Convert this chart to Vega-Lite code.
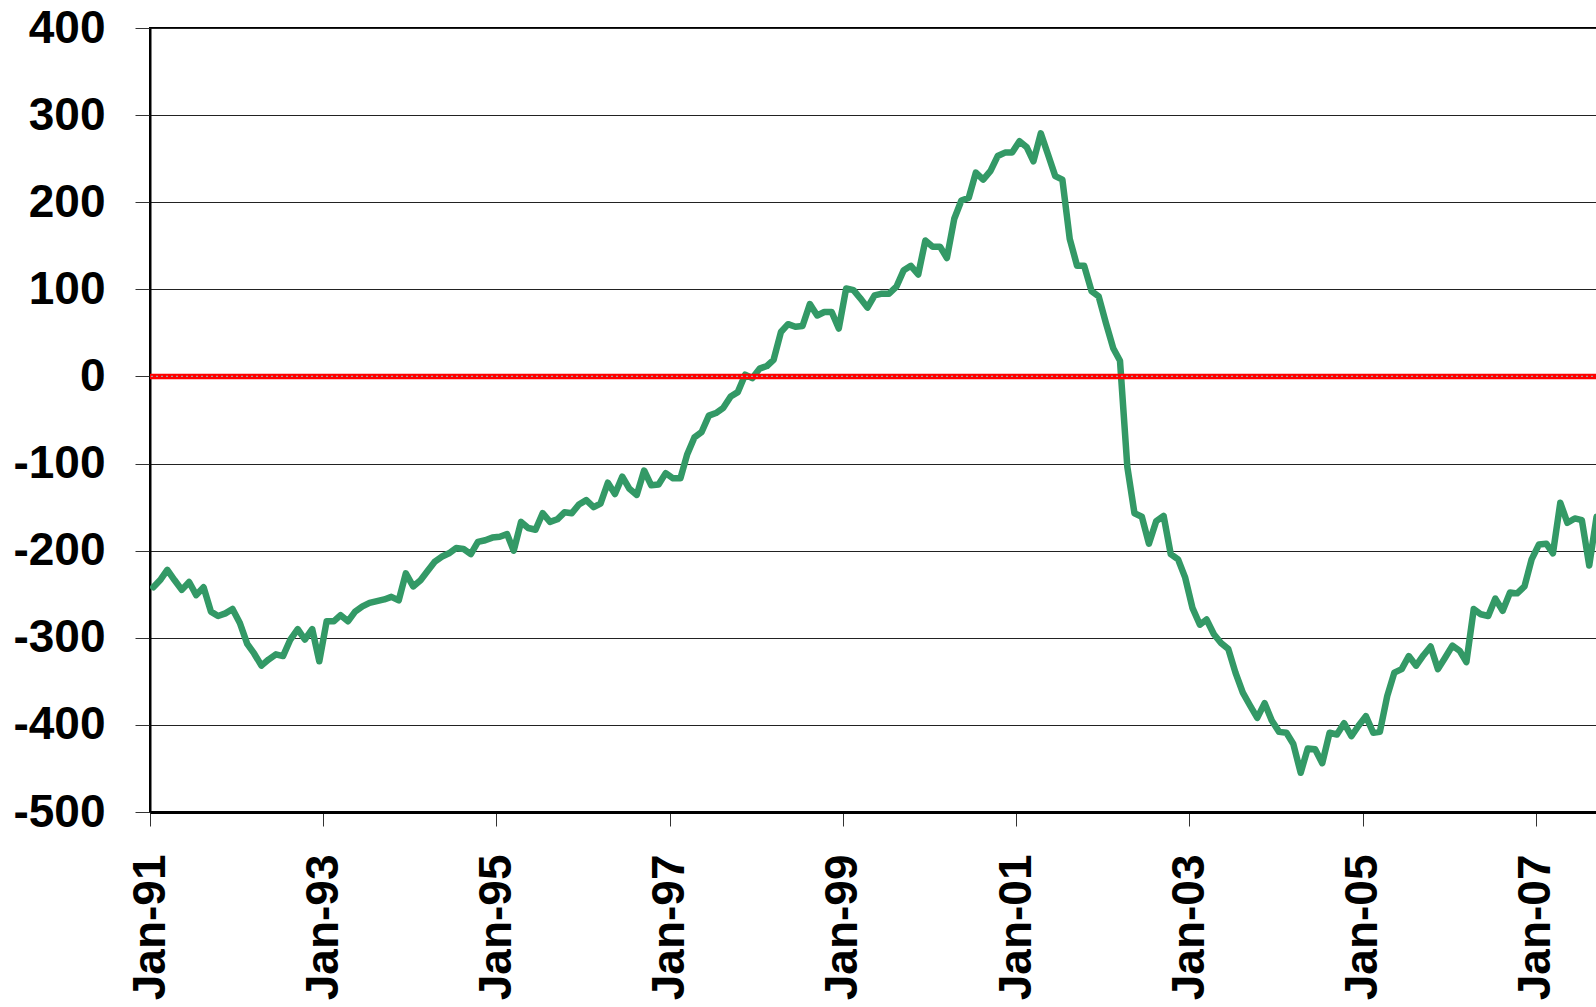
{
  "$schema": "https://vega.github.io/schema/vega-lite/v6.json",
  "width": 1448,
  "height": 784,
  "autosize": {"type": "none"},
  "padding": {"left": 150, "top": 28, "right": 0, "bottom": 195},
  "background": "white",
  "config": {"view": {"stroke": "black", "strokeWidth": 2}, "font": "Liberation Sans"},
  "layer": [
    {
      "data": {"values": [
        {"date":"1991-01-15","value":-242},{"date":"1991-02-15","value":-233},{"date":"1991-03-15","value":-222},{"date":"1991-04-15","value":-234},{"date":"1991-05-15","value":-245},{"date":"1991-06-15","value":-236},{"date":"1991-07-15","value":-251},{"date":"1991-08-15","value":-242},{"date":"1991-09-15","value":-270},{"date":"1991-10-15","value":-275},{"date":"1991-11-15","value":-272},{"date":"1991-12-15","value":-267},
        {"date":"1992-01-15","value":-283},{"date":"1992-02-15","value":-307},{"date":"1992-03-15","value":-318},{"date":"1992-04-15","value":-332},{"date":"1992-05-15","value":-325},{"date":"1992-06-15","value":-319},{"date":"1992-07-15","value":-321},{"date":"1992-08-15","value":-302},{"date":"1992-09-15","value":-290},{"date":"1992-10-15","value":-302},{"date":"1992-11-15","value":-290},{"date":"1992-12-15","value":-327},
        {"date":"1993-01-15","value":-281},{"date":"1993-02-15","value":-281},{"date":"1993-03-15","value":-274},{"date":"1993-04-15","value":-281},{"date":"1993-05-15","value":-270},{"date":"1993-06-15","value":-264},{"date":"1993-07-15","value":-260},{"date":"1993-08-15","value":-258},{"date":"1993-09-15","value":-256},{"date":"1993-10-15","value":-253},{"date":"1993-11-15","value":-257},{"date":"1993-12-15","value":-226},
        {"date":"1994-01-15","value":-241},{"date":"1994-02-15","value":-234},{"date":"1994-03-15","value":-224},{"date":"1994-04-15","value":-213},{"date":"1994-05-15","value":-207},{"date":"1994-06-15","value":-203},{"date":"1994-07-15","value":-197},{"date":"1994-08-15","value":-198},{"date":"1994-09-15","value":-204},{"date":"1994-10-15","value":-190},{"date":"1994-11-15","value":-188},{"date":"1994-12-15","value":-185},
        {"date":"1995-01-15","value":-184},{"date":"1995-02-15","value":-181},{"date":"1995-03-15","value":-200},{"date":"1995-04-15","value":-167},{"date":"1995-05-15","value":-174},{"date":"1995-06-15","value":-176},{"date":"1995-07-15","value":-157},{"date":"1995-08-15","value":-167},{"date":"1995-09-15","value":-164},{"date":"1995-10-15","value":-156},{"date":"1995-11-15","value":-157},{"date":"1995-12-15","value":-147},
        {"date":"1996-01-15","value":-142},{"date":"1996-02-15","value":-150},{"date":"1996-03-15","value":-146},{"date":"1996-04-15","value":-122},{"date":"1996-05-15","value":-135},{"date":"1996-06-15","value":-115},{"date":"1996-07-15","value":-129},{"date":"1996-08-15","value":-136},{"date":"1996-09-15","value":-108},{"date":"1996-10-15","value":-125},{"date":"1996-11-15","value":-124},{"date":"1996-12-15","value":-111},
        {"date":"1997-01-15","value":-117},{"date":"1997-02-15","value":-117},{"date":"1997-03-15","value":-90},{"date":"1997-04-15","value":-70},{"date":"1997-05-15","value":-64},{"date":"1997-06-15","value":-45},{"date":"1997-07-15","value":-42},{"date":"1997-08-15","value":-36},{"date":"1997-09-15","value":-23},{"date":"1997-10-15","value":-18},{"date":"1997-11-15","value":2},{"date":"1997-12-15","value":-2},
        {"date":"1998-01-15","value":9},{"date":"1998-02-15","value":12},{"date":"1998-03-15","value":19},{"date":"1998-04-15","value":51},{"date":"1998-05-15","value":60},{"date":"1998-06-15","value":57},{"date":"1998-07-15","value":58},{"date":"1998-08-15","value":83},{"date":"1998-09-15","value":70},{"date":"1998-10-15","value":74},{"date":"1998-11-15","value":74},{"date":"1998-12-15","value":55},
        {"date":"1999-01-15","value":101},{"date":"1999-02-15","value":99},{"date":"1999-03-15","value":90},{"date":"1999-04-15","value":79},{"date":"1999-05-15","value":93},{"date":"1999-06-15","value":95},{"date":"1999-07-15","value":95},{"date":"1999-08-15","value":103},{"date":"1999-09-15","value":122},{"date":"1999-10-15","value":127},{"date":"1999-11-15","value":117},{"date":"1999-12-15","value":156},
        {"date":"2000-01-15","value":149},{"date":"2000-02-15","value":149},{"date":"2000-03-15","value":136},{"date":"2000-04-15","value":181},{"date":"2000-05-15","value":202},{"date":"2000-06-15","value":205},{"date":"2000-07-15","value":234},{"date":"2000-08-15","value":226},{"date":"2000-09-15","value":236},{"date":"2000-10-15","value":253},{"date":"2000-11-15","value":257},{"date":"2000-12-15","value":257},
        {"date":"2001-01-15","value":270},{"date":"2001-02-15","value":263},{"date":"2001-03-15","value":247},{"date":"2001-04-15","value":279},{"date":"2001-05-15","value":255},{"date":"2001-06-15","value":230},{"date":"2001-07-15","value":226},{"date":"2001-08-15","value":158},{"date":"2001-09-15","value":127},{"date":"2001-10-15","value":127},{"date":"2001-11-15","value":98},{"date":"2001-12-15","value":92},
        {"date":"2002-01-15","value":61},{"date":"2002-02-15","value":32},{"date":"2002-03-15","value":18},{"date":"2002-04-15","value":-104},{"date":"2002-05-15","value":-157},{"date":"2002-06-15","value":-161},{"date":"2002-07-15","value":-192},{"date":"2002-08-15","value":-166},{"date":"2002-09-15","value":-160},{"date":"2002-10-15","value":-204},{"date":"2002-11-15","value":-210},{"date":"2002-12-15","value":-231},
        {"date":"2003-01-15","value":-266},{"date":"2003-02-15","value":-285},{"date":"2003-03-15","value":-279},{"date":"2003-04-15","value":-296},{"date":"2003-05-15","value":-306},{"date":"2003-06-15","value":-313},{"date":"2003-07-15","value":-340},{"date":"2003-08-15","value":-363},{"date":"2003-09-15","value":-378},{"date":"2003-10-15","value":-392},{"date":"2003-11-15","value":-375},{"date":"2003-12-15","value":-395},
        {"date":"2004-01-15","value":-408},{"date":"2004-02-15","value":-409},{"date":"2004-03-15","value":-422},{"date":"2004-04-15","value":-455},{"date":"2004-05-15","value":-427},{"date":"2004-06-15","value":-428},{"date":"2004-07-15","value":-444},{"date":"2004-08-15","value":-409},{"date":"2004-09-15","value":-411},{"date":"2004-10-15","value":-398},{"date":"2004-11-15","value":-413},{"date":"2004-12-15","value":-401},
        {"date":"2005-01-15","value":-390},{"date":"2005-02-15","value":-409},{"date":"2005-03-15","value":-408},{"date":"2005-04-15","value":-367},{"date":"2005-05-15","value":-340},{"date":"2005-06-15","value":-336},{"date":"2005-07-15","value":-321},{"date":"2005-08-15","value":-332},{"date":"2005-09-15","value":-320},{"date":"2005-10-15","value":-310},{"date":"2005-11-15","value":-336},{"date":"2005-12-15","value":-323},
        {"date":"2006-01-15","value":-309},{"date":"2006-02-15","value":-315},{"date":"2006-03-15","value":-328},{"date":"2006-04-15","value":-267},{"date":"2006-05-15","value":-273},{"date":"2006-06-15","value":-275},{"date":"2006-07-15","value":-255},{"date":"2006-08-15","value":-269},{"date":"2006-09-15","value":-248},{"date":"2006-10-15","value":-249},{"date":"2006-11-15","value":-241},{"date":"2006-12-15","value":-210},
        {"date":"2007-01-15","value":-193},{"date":"2007-02-15","value":-192},{"date":"2007-03-15","value":-203},{"date":"2007-04-15","value":-145},{"date":"2007-05-15","value":-168},{"date":"2007-06-15","value":-163},{"date":"2007-07-15","value":-165},{"date":"2007-08-15","value":-217},{"date":"2007-09-15","value":-161}
      ]},
      "mark": {"type": "line", "color": "#339966", "strokeWidth": 6.5, "strokeJoin": "round", "strokeCap": "round", "clip": true},
      "encoding": {
        "x": {
          "field": "date", "type": "temporal",
          "scale": {"type": "utc", "domain": [{"year": 1991, "month": 1, "date": 1, "utc": true}, {"year": 2007, "month": 9, "date": 21, "utc": true}]},
          "axis": {
            "title": null, "grid": false,
            "values": [
              {"year": 1991, "month": 1, "date": 1, "utc": true},
              {"year": 1993, "month": 1, "date": 1, "utc": true},
              {"year": 1995, "month": 1, "date": 1, "utc": true},
              {"year": 1997, "month": 1, "date": 1, "utc": true},
              {"year": 1999, "month": 1, "date": 1, "utc": true},
              {"year": 2001, "month": 1, "date": 1, "utc": true},
              {"year": 2003, "month": 1, "date": 1, "utc": true},
              {"year": 2005, "month": 1, "date": 1, "utc": true},
              {"year": 2007, "month": 1, "date": 1, "utc": true}
            ],
            "labelExpr": "utcFormat(datum.value, '%b-%y')",
            "labelAngle": -90, "labelFontSize": 46, "labelFontWeight": "bold", "labelFont": "Liberation Sans", "labelColor": "black",
            "labelPadding": 28, "labelFlush": false, "labelOverlap": false,
            "tickSize": 14, "tickColor": "#333", "tickWidth": 1,
            "domainColor": "black", "domainWidth": 3
          }
        },
        "y": {
          "field": "value", "type": "quantitative",
          "scale": {"domain": [-500, 400], "nice": false, "zero": false},
          "axis": {
            "title": null,
            "values": [-500, -400, -300, -200, -100, 0, 100, 200, 300, 400],
            "labelExpr": "'' + datum.value",
            "labelFontSize": 46, "labelFontWeight": "bold", "labelFont": "Liberation Sans", "labelColor": "black",
            "labelPadding": 30, "labelFlush": false, "labelOverlap": false,
            "tickSize": 15, "tickColor": "#333", "tickWidth": 1,
            "grid": true, "gridColor": "#222", "gridWidth": 1,
            "domainColor": "black", "domainWidth": 2
          }
        }
      }
    },
    {
      "data": {"values": [{"value": 0}]},
      "mark": {"type": "rule", "color": "#ff0000", "strokeWidth": 5.5},
      "encoding": {"y": {"field": "value", "type": "quantitative"}}
    },
    {
      "data": {"values": [{"value": 0}]},
      "mark": {"type": "rule", "color": "#a0a0a0", "strokeWidth": 1.2, "strokeDash": [2, 3]},
      "encoding": {"y": {"field": "value", "type": "quantitative"}}
    }
  ]
}
